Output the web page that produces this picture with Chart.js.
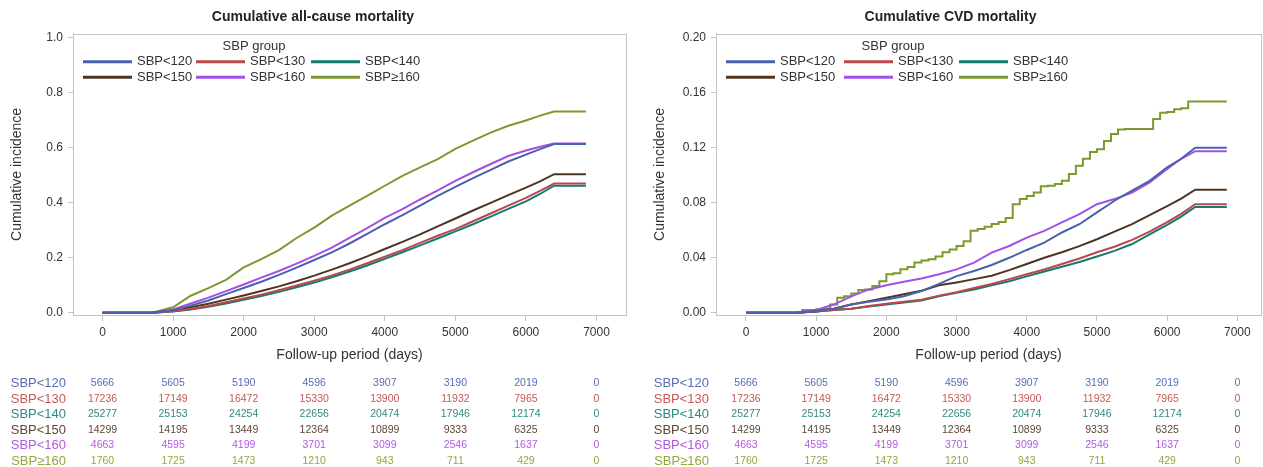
<!DOCTYPE html>
<html><head><meta charset="utf-8">
<script src="https://cdn.jsdelivr.net/npm/chart.js@4/dist/chart.umd.min.js"></script>
<style>
html,body{margin:0;padding:0;background:#fff;overflow:hidden;width:1263px;height:467px;}
#wrap{position:relative;width:1263px;height:467px;overflow:hidden;background:#fff;}
canvas{position:absolute;top:0;}
#c1{left:0}
#c2{left:640px}
</style></head><body>
<div id="wrap"><canvas id="c1" width="632" height="467"></canvas><canvas id="c2" width="631" height="467"></canvas></div>
<script>
// ---------- data ----------
const groups = ['SBP<120', 'SBP<130', 'SBP<140', 'SBP<150', 'SBP<160', 'SBP\u2265160'];
const lineColors  = ['#4a62ab', '#b9484a', '#167a6e', '#4e3520', '#a34fe8', '#7a9a2e'];
const tableColors = ['#5b6db3', '#c65a55', '#2f8a80', '#5e4733', '#b35ae0', '#93a83c'];

const xTicks = [0, 1000, 2000, 3000, 4000, 5000, 6000, 7000];
const yTicksAll = [0, 0.2, 0.4, 0.6, 0.8, 1.0];
const yTicksCvd = [0, 0.04, 0.08, 0.12, 0.16, 0.20];

// number at risk (same in both panels)
const atRisk120 = [5666, 5605, 5190, 4596, 3907, 3190, 2019, 0];
const atRisk130 = [17236, 17149, 16472, 15330, 13900, 11932, 7965, 0];
const atRisk140 = [25277, 25153, 24254, 22656, 20474, 17946, 12174, 0];
const atRisk150 = [14299, 14195, 13449, 12364, 10899, 9333, 6325, 0];
const atRisk160 = [4663, 4595, 4199, 3701, 3099, 2546, 1637, 0];
const atRiskGe160 = [1760, 1725, 1473, 1210, 943, 711, 429, 0];

// follow-up times (days) at which curves were read
const tGrid = [0, 700, 1000, 1250, 1500, 1750, 2000, 2250, 2500, 2750, 3000, 3250, 3500, 3750, 4000, 4250, 4500, 4750, 5000, 5250, 5500, 5750, 6000, 6200, 6400, 6850];

// all-cause mortality
const all120 = [0, 0, 0.008, 0.026, 0.045, 0.068, 0.09, 0.113, 0.138, 0.164, 0.192, 0.22, 0.252, 0.287, 0.322, 0.355, 0.39, 0.425, 0.458, 0.49, 0.52, 0.55, 0.575, 0.595, 0.614, 0.614];
const all130 = [0, 0, 0.006, 0.014, 0.025, 0.038, 0.052, 0.066, 0.082, 0.099, 0.117, 0.136, 0.157, 0.18, 0.204, 0.228, 0.254, 0.28, 0.304, 0.333, 0.361, 0.39, 0.418, 0.443, 0.47, 0.47];
const all140 = [0, 0, 0.005, 0.012, 0.022, 0.034, 0.047, 0.061, 0.076, 0.093, 0.11, 0.129, 0.15, 0.172, 0.196, 0.22, 0.245, 0.27, 0.296, 0.322, 0.35, 0.378, 0.405, 0.432, 0.462, 0.462];
const all150 = [0, 0, 0.008, 0.02, 0.033, 0.048, 0.063, 0.079, 0.096, 0.115, 0.135, 0.157, 0.18, 0.205, 0.232, 0.258, 0.285, 0.314, 0.343, 0.372, 0.40, 0.428, 0.455, 0.478, 0.504, 0.504];
const all160 = [0, 0, 0.012, 0.034, 0.055, 0.079, 0.103, 0.128, 0.152, 0.179, 0.207, 0.237, 0.272, 0.308, 0.345, 0.377, 0.412, 0.445, 0.48, 0.511, 0.541, 0.57, 0.59, 0.604, 0.616, 0.616];
const allGe160 = [0, 0, 0.02, 0.062, 0.09, 0.12, 0.165, 0.195, 0.228, 0.272, 0.31, 0.353, 0.39, 0.425, 0.462, 0.498, 0.529, 0.559, 0.596, 0.626, 0.655, 0.68, 0.699, 0.717, 0.732, 0.732];

// CVD mortality
const cvd120 = [0, 0, 0.001, 0.003, 0.006, 0.008, 0.0097, 0.012, 0.0158, 0.021, 0.0267, 0.0304, 0.0348, 0.040, 0.0457, 0.051, 0.0584, 0.0644, 0.073, 0.0815, 0.0888, 0.096, 0.1058, 0.112, 0.120, 0.120];
const cvd130 = [0, 0, 0.001, 0.002, 0.003, 0.005, 0.0065, 0.008, 0.0095, 0.0125, 0.015, 0.018, 0.021, 0.0245, 0.028, 0.0315, 0.0355, 0.0395, 0.044, 0.048, 0.053, 0.059, 0.066, 0.072, 0.079, 0.079];
const cvd140 = [0, 0, 0.001, 0.002, 0.003, 0.0045, 0.006, 0.0075, 0.009, 0.012, 0.0145, 0.017, 0.020, 0.023, 0.0265, 0.030, 0.0335, 0.037, 0.041, 0.045, 0.050, 0.057, 0.064, 0.070, 0.077, 0.077];
const cvd150 = [0, 0, 0.001, 0.003, 0.006, 0.0085, 0.011, 0.0135, 0.016, 0.020, 0.022, 0.0245, 0.027, 0.031, 0.0355, 0.040, 0.044, 0.0485, 0.0535, 0.059, 0.0645, 0.071, 0.0775, 0.083, 0.0895, 0.0895];
const cvd160 = [0, 0, 0.002, 0.006, 0.012, 0.017, 0.020, 0.0226, 0.025, 0.028, 0.0316, 0.0365, 0.0438, 0.0486, 0.0547, 0.0596, 0.0657, 0.0717, 0.079, 0.0827, 0.0875, 0.0948, 0.1046, 0.112, 0.1175, 0.1175];
// SBP>=160 CVD curve is visibly stepped: read on a finer grid
const tGe160Cvd = [0, 700, 800, 900, 1000, 1100, 1200, 1300, 1400, 1500, 1600, 1700, 1800, 1900, 2000, 2100, 2200, 2300, 2400, 2500, 2600, 2700, 2800, 2900, 3000, 3100, 3200, 3300, 3400, 3500, 3600, 3700, 3800, 3900, 4000, 4100, 4200, 4300, 4400, 4500, 4600, 4700, 4800, 4900, 5000, 5100, 5200, 5300, 5400, 5500, 5600, 5700, 5800, 5900, 6000, 6100, 6200, 6300, 6400, 6850];
const cvdGe160 = [0, 0, 0.002, 0.002, 0.0025, 0.003, 0.006, 0.011, 0.012, 0.014, 0.0165, 0.017, 0.0195, 0.023, 0.028, 0.0287, 0.0316, 0.0333, 0.0365, 0.038, 0.039, 0.041, 0.044, 0.046, 0.0486, 0.052, 0.0596, 0.061, 0.0625, 0.0645, 0.066, 0.069, 0.079, 0.0827, 0.085, 0.0875, 0.092, 0.0924, 0.0936, 0.096, 0.101, 0.107, 0.112, 0.117, 0.119, 0.125, 0.130, 0.1333, 0.1337, 0.1337, 0.1337, 0.1337, 0.141, 0.1455, 0.146, 0.148, 0.1488, 0.1537, 0.1537, 0.1537];

// ---------- helpers ----------
const FONT = '"Liberation Sans", Arial, "DejaVu Sans", sans-serif';
Chart.defaults.font.family = FONT;
Chart.defaults.color = '#333';

const atRiskRows = [atRisk120, atRisk130, atRisk140, atRisk150, atRisk160, atRiskGe160];
function pts(times, vals) { return times.map((t, i) => ({ x: t, y: vals[i] })); }

const boxPlugin = {
  id: 'box',
  beforeDatasetsDraw(chart) {
    const a = chart.chartArea, c = chart.ctx;
    c.save(); c.strokeStyle = '#c4c4c4'; c.lineWidth = 1;
    c.strokeRect(Math.round(a.left) + 0.5, Math.round(a.top) + 0.5, Math.round(a.right - a.left), Math.round(a.bottom - a.top));
    c.restore();
  }
};

const sbpLegend = {
  id: 'sbpLegend',
  afterDraw(chart, args, o) {
    const a = chart.chartArea, c = chart.ctx;
    c.save();
    c.font = '13px ' + FONT; c.fillStyle = '#333'; c.textBaseline = 'middle';
    c.textAlign = 'center';
    c.fillText('SBP group', a.left + o.titleX, a.top + 13);
    c.textAlign = 'left';
    groups.forEach((g, i) => {
      const col = i % 3, row = Math.floor(i / 3);
      const x = a.left + o.cols[col], y = a.top + 28 + row * 15.5;
      c.strokeStyle = lineColors[i]; c.lineWidth = 3;
      c.beginPath(); c.moveTo(x, y); c.lineTo(x + 49, y); c.stroke();
      c.fillStyle = '#333';
      c.fillText(g, x + 54, y);
    });
    c.restore();
  }
};

const riskTable = {
  id: 'riskTable',
  afterDraw(chart) {
    const c = chart.ctx, xs = chart.scales.x, a = chart.chartArea;
    c.save(); c.textBaseline = 'middle';
    atRiskRows.forEach((row, r) => {
      const y = 383.5 + r * 15.5;
      c.fillStyle = tableColors[r];
      c.font = '13px ' + FONT; c.textAlign = 'right';
      c.fillText(groups[r], a.left - 7, y);
      c.font = '10.5px ' + FONT; c.textAlign = 'center';
      row.forEach((v, k) => c.fillText(String(v), xs.getPixelForValue(xTicks[k]), y));
    });
    c.restore();
  }
};

function makeChart(id, cfg) {
  const datasets = cfg.series.map((s, i) => ({
    label: groups[i],
    data: pts(s.t, s.v),
    borderColor: lineColors[i],
    backgroundColor: lineColors[i],
    borderWidth: 2,
    pointRadius: 0,
    fill: false,
    tension: 0,
    stepped: s.stepped || false
  }));
  return new Chart(document.getElementById(id), {
    type: 'line',
    data: { datasets },
    options: {
      responsive: false, animation: false, devicePixelRatio: 1,
      layout: { padding: { left: 0, right: cfg.padRight, top: 0, bottom: 100 } },
      plugins: {
        legend: { display: false }, tooltip: { enabled: false },
        title: { display: true, text: cfg.title, color: '#222',
                 font: { size: 14, weight: 'bold', family: FONT }, padding: { top: 9, bottom: 8 } },
        sbpLegend: { cols: cfg.legendCols, titleX: cfg.legendTitleX }
      },
      scales: {
        x: {
          type: 'linear', min: cfg.xMin, max: cfg.xMax,
          afterBuildTicks: s => { s.ticks = xTicks.map(v => ({ value: v })); },
          afterFit: s => { s.height = 52; },
          ticks: { color: '#333', font: { size: 12 }, padding: 4, maxRotation: 0,
                   callback: v => String(v) },
          grid: { display: true, drawOnChartArea: false, drawTicks: true, tickLength: 6, color: '#c4c4c4' },
          border: { display: true, color: '#c4c4c4' },
          title: { display: true, text: 'Follow-up period (days)', color: '#333',
                   font: { size: 14 }, padding: { top: 0, bottom: 3.6 } }
        },
        y: {
          type: 'linear', min: cfg.yMin, max: cfg.yMax,
          afterBuildTicks: s => { s.ticks = cfg.yTicks.map(v => ({ value: v })); },
          afterFit: s => { s.width = cfg.yWidth; },
          ticks: { color: '#333', font: { size: 12 }, padding: 5,
                   callback: v => Number(v).toFixed(cfg.yDec) },
          grid: { display: true, drawOnChartArea: false, drawTicks: true, tickLength: 5, color: '#c4c4c4' },
          border: { display: true, color: '#c4c4c4' },
          title: { display: true, text: 'Cumulative incidence', color: '#333',
                   font: { size: 14 }, padding: { top: cfg.yTitlePad, bottom: 0 } }
        }
      }
    },
    plugins: [boxPlugin, sbpLegend, riskTable]
  });
}

makeChart('c1', {
  title: 'Cumulative all-cause mortality',
  series: [
    { t: tGrid, v: all120 }, { t: tGrid, v: all130 }, { t: tGrid, v: all140 },
    { t: tGrid, v: all150 }, { t: tGrid, v: all160 }, { t: tGrid, v: allGe160 }
  ],
  xMin: -418, xMax: 7418, yMin: -0.008, yMax: 1.0145, yTicks: yTicksAll, yDec: 1,
  yWidth: 73, padRight: 6, yTitlePad: 9,
  legendCols: [10, 123, 238], legendTitleX: 181
});

makeChart('c2', {
  title: 'Cumulative CVD mortality',
  series: [
    { t: tGrid, v: cvd120 }, { t: tGrid, v: cvd130 }, { t: tGrid, v: cvd140 },
    { t: tGrid, v: cvd150 }, { t: tGrid, v: cvd160 }, { t: tGe160Cvd, v: cvdGe160, stepped: true }
  ],
  xMin: -427, xMax: 7337, yMin: -0.0016, yMax: 0.2029, yTicks: yTicksCvd, yDec: 2,
  yWidth: 76, padRight: 10, yTitlePad: 12,
  legendCols: [10, 128, 243], legendTitleX: 177
});
</script>
</body></html>
